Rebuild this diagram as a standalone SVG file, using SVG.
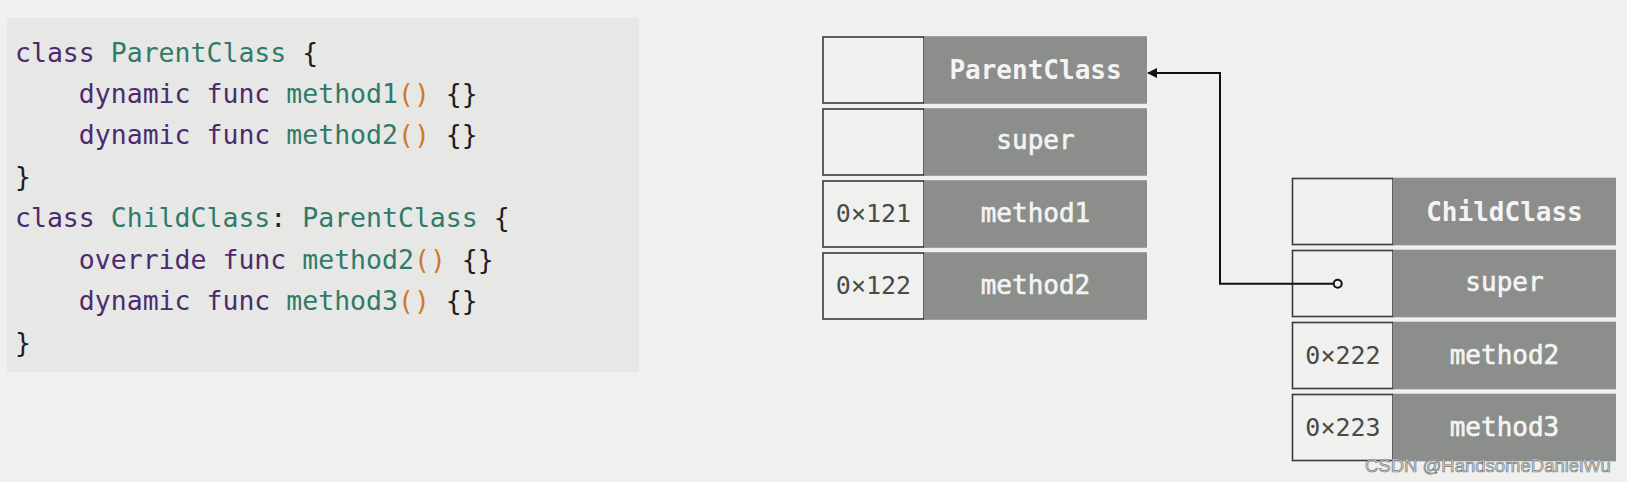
<svg xmlns="http://www.w3.org/2000/svg" width="1627" height="482" viewBox="0 0 1627 482">
<defs>
<style>
.code{font-family:"DejaVu Sans Mono","Liberation Mono",monospace;font-size:26.5px;fill:#1e1e1e}
.k{fill:#4d2a70}
.n{fill:#2f7a6a}
.p{fill:#cf7a2a}
.addr{fill:#f0f1ef;stroke:#3a3a3a;stroke-width:1.6}
.slot{fill:#8c8e8b}
.lbl{font-family:"DejaVu Sans Mono","Liberation Mono",monospace;font-size:26px;fill:#f4f4f4;stroke:#f4f4f4;stroke-width:0.6;text-anchor:middle}
.b{font-weight:bold;stroke-width:0}
.hex{font-family:"DejaVu Sans Mono","Liberation Mono",monospace;font-size:25px;fill:#4a4a4a;text-anchor:middle}
.wire{fill:none;stroke:#111;stroke-width:2}
</style>
<marker id="arr" viewBox="0 0 10 10" refX="9" refY="5" markerWidth="10" markerHeight="10" markerUnits="userSpaceOnUse" orient="auto">
<path d="M0,0 L10,5 L0,10 z" fill="#111"/>
</marker>
</defs>
<rect x="0" y="0" width="1627" height="482" fill="#f0f1ef"/>
<g id="code">
<rect x="7" y="18" width="632" height="354" fill="#e7e8e6"/>
<text class="code" x="15" y="61.5" xml:space="preserve"><tspan class="k">class</tspan> <tspan class="n">ParentClass</tspan> {</text>
<text class="code" x="15" y="103" xml:space="preserve">    <tspan class="k">dynamic</tspan> <tspan class="k">func</tspan> <tspan class="n">method1</tspan><tspan class="p">()</tspan> {}</text>
<text class="code" x="15" y="144.4" xml:space="preserve">    <tspan class="k">dynamic</tspan> <tspan class="k">func</tspan> <tspan class="n">method2</tspan><tspan class="p">()</tspan> {}</text>
<text class="code" x="15" y="185.9">}</text>
<text class="code" x="15" y="227.3" xml:space="preserve"><tspan class="k">class</tspan> <tspan class="n">ChildClass</tspan>: <tspan class="n">ParentClass</tspan> {</text>
<text class="code" x="15" y="268.8" xml:space="preserve">    <tspan class="k">override</tspan> <tspan class="k">func</tspan> <tspan class="n">method2</tspan><tspan class="p">()</tspan> {}</text>
<text class="code" x="15" y="310.2" xml:space="preserve">    <tspan class="k">dynamic</tspan> <tspan class="k">func</tspan> <tspan class="n">method3</tspan><tspan class="p">()</tspan> {}</text>
<text class="code" x="15" y="351.7">}</text>
</g>
<g id="parent-table">
<g id="p-class"><rect class="addr" x="823" y="37" width="101" height="66"/><rect class="slot" x="924" y="36.2" width="223" height="67.6"/><text class="lbl b" x="1035.5" y="79">ParentClass</text></g>
<g id="p-super"><rect class="addr" x="823" y="109" width="101" height="66"/><rect class="slot" x="924" y="108.2" width="223" height="67.6"/><text class="lbl" x="1035.5" y="149">super</text></g>
<g id="p-method1"><rect class="addr" x="823" y="181" width="101" height="66"/><rect class="slot" x="924" y="180.2" width="223" height="67.6"/><text class="hex" x="873.5" y="222">0×121</text><text class="lbl" x="1035.5" y="222">method1</text></g>
<g id="p-method2"><rect class="addr" x="823" y="253" width="101" height="66"/><rect class="slot" x="924" y="252.2" width="223" height="67.6"/><text class="hex" x="873.5" y="294">0×122</text><text class="lbl" x="1035.5" y="294">method2</text></g>
</g>
<g id="child-table">
<g id="c-class"><rect class="addr" x="1292.5" y="178.5" width="100.5" height="66"/><rect class="slot" x="1393" y="177.7" width="223" height="67.6"/><text class="lbl b" x="1504.5" y="220.5">ChildClass</text></g>
<g id="c-super"><rect class="addr" x="1292.5" y="250.5" width="100.5" height="66"/><rect class="slot" x="1393" y="249.7" width="223" height="67.6"/><text class="lbl" x="1504.5" y="290.5">super</text></g>
<g id="c-method2"><rect class="addr" x="1292.5" y="322.5" width="100.5" height="66"/><rect class="slot" x="1393" y="321.7" width="223" height="67.6"/><text class="hex" x="1343" y="364">0×222</text><text class="lbl" x="1504.5" y="364">method2</text></g>
<g id="c-method3"><rect class="addr" x="1292.5" y="394.5" width="100.5" height="66"/><rect class="slot" x="1393" y="393.7" width="223" height="67.6"/><text class="hex" x="1343" y="436">0×223</text><text class="lbl" x="1504.5" y="436">method3</text></g>
</g>
<g id="connectors">
<path class="wire" d="M1334,283.7 H1220 V73 H1148" marker-end="url(#arr)"/>
<circle cx="1337.7" cy="283.7" r="4" fill="#f0f1ef" stroke="#111" stroke-width="2"/>
</g>
<text x="1365" y="472" font-family="Liberation Sans, Arial, sans-serif" font-size="18.5" fill="#d8d8d8" stroke="#7a7a7a" stroke-width="0.7">CSDN @HandsomeDanielWu</text>
</svg>
